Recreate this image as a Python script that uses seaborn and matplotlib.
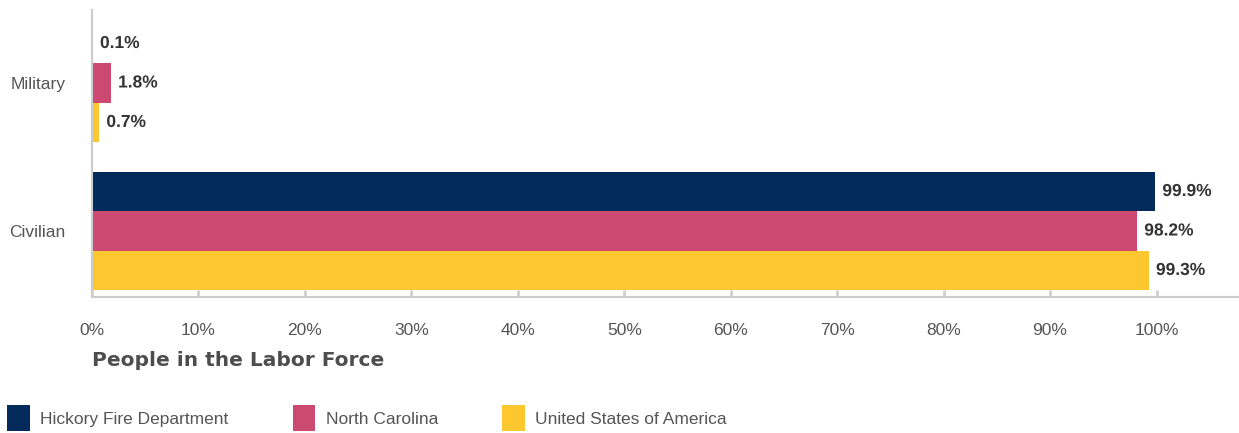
import matplotlib
matplotlib.use("Agg")
import matplotlib.pyplot as plt
import matplotlib.patheffects as pe
from matplotlib.ticker import FuncFormatter
import pandas as pd
import seaborn as sns

# Labor force composition (percent of people in the labor force)
categories = ["Military", "Civilian"]
series_names = ["Hickory Fire Department", "North Carolina", "United States of America"]
hickory = [0.1, 99.9]
north_carolina = [1.8, 98.2]
usa = [0.7, 99.3]
colors = ["#022b5c", "#cc4a72", "#fcc72f"]
x_ticks = [0, 10, 20, 30, 40, 50, 60, 70, 80, 90, 100]

rows = []
for name, vals in zip(series_names, [hickory, north_carolina, usa]):
    for cat, v in zip(categories, vals):
        rows.append({"category": cat, "area": name, "value": v})
df = pd.DataFrame(rows)

sns.set_theme(style="white")
plt.rcParams["font.family"] = ["Liberation Sans", "DejaVu Sans"]

W, H = 1239, 433
fig = plt.figure(figsize=(W / 100, H / 100), dpi=100)
ax = fig.add_axes([92 / W, 136 / H, 1147 / W, 287 / H])

sns.barplot(data=df, y="category", x="value", hue="area", order=categories,
            hue_order=series_names, palette=colors, orient="h", width=0.8,
            saturation=1, ax=ax, legend=True, errorbar=None, linewidth=0)

ax.set_xlim(0, 107.75)
ax.set_ylim(1.446, -0.493)
ax.set_xticks(x_ticks)
ax.xaxis.set_major_formatter(FuncFormatter(lambda v, p: f"{v:.0f}%"))
ax.tick_params(axis="x", bottom=True, direction="in", length=5, width=2,
               color="#d0d0d0", labelsize=12.5, labelcolor="#555555", pad=19)
ax.tick_params(axis="y", left=False, length=0, labelsize=12.5,
               labelcolor="#555555", pad=19)
ax.set_xlabel("")
ax.set_ylabel("")
for s in ["top", "right"]:
    ax.spines[s].set_visible(False)
for s in ["left", "bottom"]:
    ax.spines[s].set_color("#cccccc")
    ax.spines[s].set_linewidth(1.5)

# Value labels at the end of each bar
outline = [pe.withStroke(linewidth=3, foreground="white")]
for container in ax.containers:
    labels = [f"{b.get_width():.1f}%" for b in container]
    ax.bar_label(container, labels=labels, padding=5, fontsize=12.5,
                 fontweight="bold", color="#333333", path_effects=outline)

fig.text(92 / W, 1 - 360 / H, "People in the Labor Force", fontsize=14.5,
         fontweight="bold", family="DejaVu Sans", color="#4d4d4d",
         va="center", ha="left")

handles, labels = ax.get_legend_handles_labels()
ax.get_legend().remove()
fig.legend(handles, labels, loc="center left", bbox_to_anchor=(2 / W, 1 - 418 / H),
           ncol=3, frameon=False, fontsize=12.5, handlelength=1.3, handleheight=2.0,
           handletextpad=0.6, columnspacing=3.7, labelcolor="#555555",
           borderaxespad=0, borderpad=0.3)

fig.savefig("out.png", dpi=100)
